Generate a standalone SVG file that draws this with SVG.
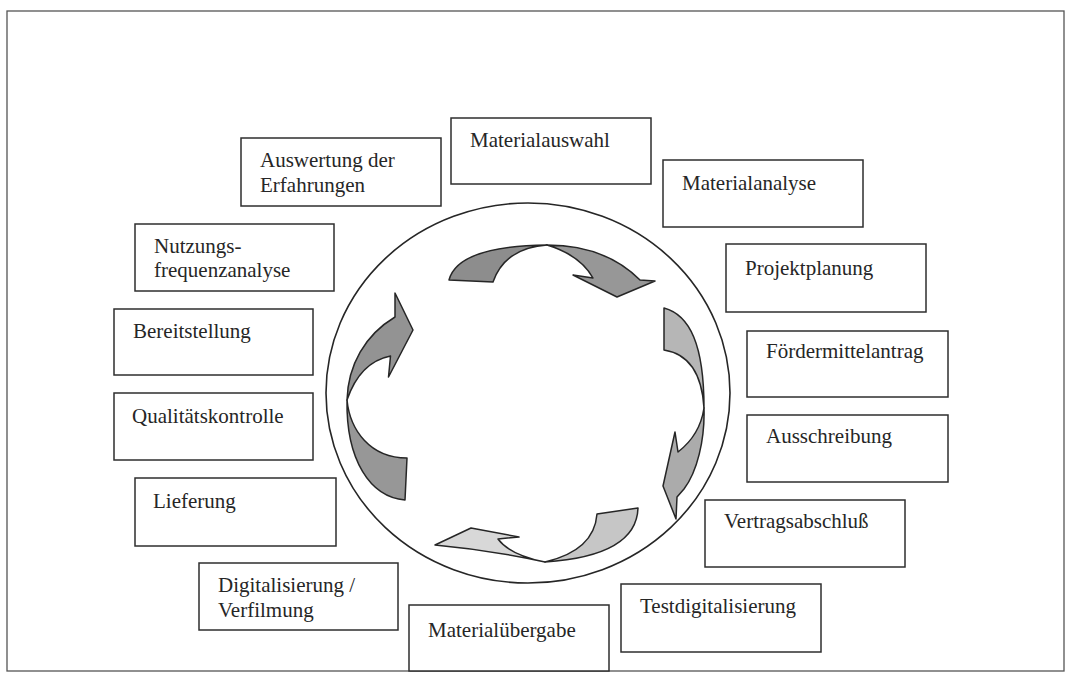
<svg xmlns="http://www.w3.org/2000/svg" width="1066" height="673" viewBox="0 0 1066 673">
<style>
.box{fill:#fff;stroke:#2e2e2e;stroke-width:1.5}
.t{font-family:"Liberation Serif","Times New Roman",serif;font-size:21px;fill:#262626}
.arr{stroke:#262626;stroke-width:1.5;stroke-linejoin:round}
</style>
<rect width="1066" height="673" fill="#fff"/>
<rect id="frame" x="7" y="11" width="1057" height="660" fill="none" stroke="#555" stroke-width="1.3"/>
<ellipse id="cycle" cx="528" cy="393" rx="202" ry="190" fill="#fff" stroke="#262626" stroke-width="1.6"/>
<g id="cycle-arrows">
  <path class="arr" fill="#8d8d8d" d="M449,280 Q458,246 547,245 Q505,248 493,282 Z"/>
  <path class="arr" fill="#979797" d="M547,245 Q605,245 640,280 L655,281 L617,297 L573,275 L593,278 Q580,255 547,245 Z"/>
  <path class="arr" fill="#b6b6b6" d="M664,308 C690,315 704,345 704,408 C702,375 690,354 664,350 Z"/>
  <path class="arr" fill="#ababab" d="M704,408 C705,440 697,472 684,489 L677,497 L676,519 L663,486 L675,432 L678,452 Q700,435 704,408 Z"/>
  <path class="arr" fill="#c6c6c6" d="M597,514 L638,508 C637,540 605,558 545,562 C575,555 595,540 597,514 Z"/>
  <path class="arr" fill="#d8d8d8" d="M545,562 Q490,550 435,545 L471,528 L519,537 L498,539 Q510,555 545,562 Z"/>
  <path class="arr" fill="#979797" d="M407,458 L405,500 C370,497 346,460 347,400 C350,430 370,458 407,458 Z"/>
  <path class="arr" fill="#939393" d="M347,400 C348,365 365,335 395,317 L395,293 L413,330 L388.5,377 L390.5,356 Q360,362 347,400 Z"/>
</g>
<g id="n-materialauswahl"><rect class="box" x="451" y="118" width="200" height="66"/><text class="t" x="470" y="147">Materialauswahl</text></g>
<g id="n-materialanalyse"><rect class="box" x="663" y="160" width="200" height="67"/><text class="t" x="682" y="190">Materialanalyse</text></g>
<g id="n-projektplanung"><rect class="box" x="726" y="244" width="200" height="68"/><text class="t" x="745" y="275">Projektplanung</text></g>
<g id="n-foerdermittelantrag"><rect class="box" x="747" y="331" width="201" height="66"/><text class="t" x="766" y="358">Fördermittelantrag</text></g>
<g id="n-ausschreibung"><rect class="box" x="747" y="415" width="201" height="67"/><text class="t" x="766" y="443">Ausschreibung</text></g>
<g id="n-vertragsabschluss"><rect class="box" x="705" y="500" width="200" height="67"/><text class="t" x="724" y="528">Vertragsabschluß</text></g>
<g id="n-testdigitalisierung"><rect class="box" x="621" y="584" width="200" height="68"/><text class="t" x="640" y="613">Testdigitalisierung</text></g>
<g id="n-materialuebergabe"><rect class="box" x="409" y="605" width="200" height="66"/><text class="t" x="428" y="637">Materialübergabe</text></g>
<g id="n-digitalisierung"><rect class="box" x="199" y="563" width="199" height="67"/><text class="t" x="218" y="592">Digitalisierung /</text><text class="t" x="218" y="617">Verfilmung</text></g>
<g id="n-lieferung"><rect class="box" x="135" y="478" width="201" height="68"/><text class="t" x="153" y="508">Lieferung</text></g>
<g id="n-qualitaetskontrolle"><rect class="box" x="114" y="393" width="199" height="67"/><text class="t" x="132" y="423">Qualitätskontrolle</text></g>
<g id="n-bereitstellung"><rect class="box" x="114" y="309" width="199" height="66"/><text class="t" x="133" y="338">Bereitstellung</text></g>
<g id="n-nutzungsfrequenzanalyse"><rect class="box" x="135" y="224" width="199" height="67"/><text class="t" x="154" y="253">Nutzungs-</text><text class="t" x="154" y="277">frequenzanalyse</text></g>
<g id="n-auswertung"><rect class="box" x="241" y="138" width="200" height="68"/><text class="t" x="260" y="167">Auswertung der</text><text class="t" x="260" y="192">Erfahrungen</text></g>
</svg>
